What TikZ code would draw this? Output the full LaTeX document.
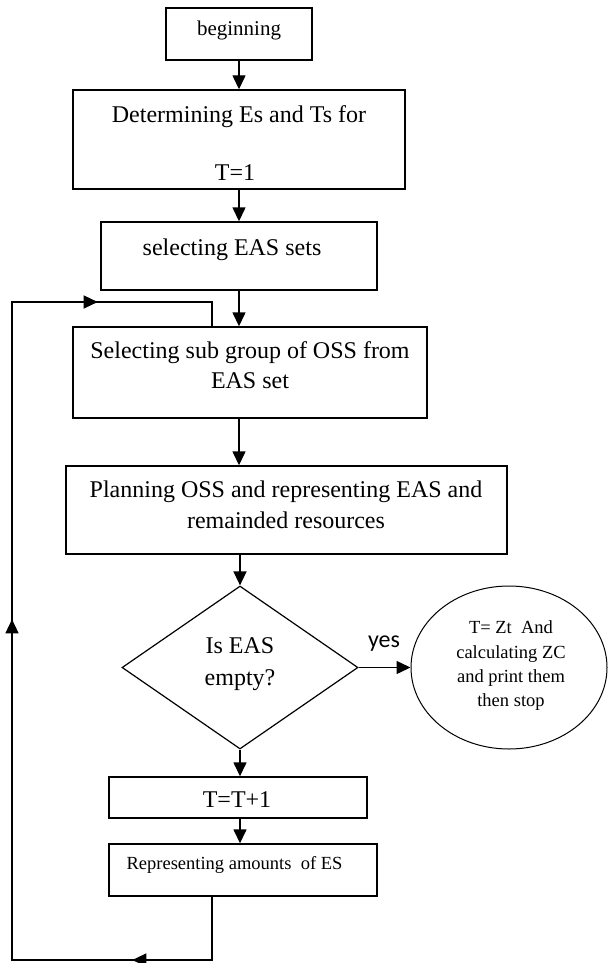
\documentclass[tikz,border=0pt]{standalone}
\usepackage{fontspec}
\setmainfont{Liberation Serif}
\newfontfamily\yesfont{Carlito}
\usetikzlibrary{shapes.geometric,arrows.meta,decorations.markings}
\begin{document}
\begin{tikzpicture}[x=1pt,y=-1pt,
  box/.style={draw,line width=1.4pt,rectangle,inner sep=0pt},
  arr/.style={line width=1.4pt,-{Triangle[length=14pt,width=13pt]}},
  txt/.style={inner sep=0pt,anchor=base,font=\fontsize{24}{28}\selectfont},
  small/.style={inner sep=0pt,anchor=base,font=\fontsize{18.5}{22}\selectfont},
  loopline/.style={line width=1.4pt,postaction={decorate},
    decoration={markings,
      mark=at position 143pt with {\arrow{Triangle[length=14pt,width=13pt]}},
      mark=at position 604pt with {\arrow{Triangle[length=14pt,width=13pt]}},
      mark=at position 1007pt with {\arrow{Triangle[length=14pt,width=13pt]}}}}
]
\useasboundingbox (0,0) rectangle (608,963);

% boxes
\node[box,minimum width=146pt,minimum height=52pt] (begin) at (239,34) {};
\node[box,minimum width=332pt,minimum height=99pt] (det) at (239,139.5) {};
\node[box,minimum width=276pt,minimum height=68pt] (sel) at (239,256) {};
\node[box,minimum width=354pt,minimum height=91pt] (sub) at (250,372.5) {};
\node[box,minimum width=441pt,minimum height=88pt] (plan) at (286.5,510) {};
\node[draw,diamond,line width=1.2pt,minimum width=236pt,minimum height=163pt,inner sep=0pt] (dia) at (240,667.5) {};
\node[draw,ellipse,line width=1pt,minimum width=196pt,minimum height=163pt,inner sep=0pt] (ell) at (509,667.5) {};
\node[box,minimum width=258pt,minimum height=41pt] (tbox) at (238,797.5) {};
\node[box,minimum width=268pt,minimum height=52pt] (rep) at (243,870) {};

% texts
\node[inner sep=0pt,anchor=base,font=\fontsize{21}{24}\selectfont] (tbegin) at (239,36) {beginning};
\node[txt] (tdet1) at (239,122) {Determining Es and Ts for};
\node[txt] (tdet2) at (235,180) {T=1};
\node[txt] (tsel) at (232,255) {selecting EAS sets};
\node[txt] (tsub1) at (250,358) {Selecting sub group of OSS from};
\node[txt] (tsub2) at (250,388) {EAS set};
\node[txt] (tplan1) at (286,497) {Planning OSS and representing EAS and};
\node[txt] (tplan2) at (286,528) {remainded resources};
\node[txt] (tdia1) at (240,653) {Is EAS};
\node[txt] (tdia2) at (240,685) {empty?};
\node[inner sep=0pt,anchor=base,font=\yesfont\fontsize{24}{28}\selectfont] (tyes) at (384,647) {yes};
\node[small] (tell1) at (511,633) {T= Zt\ \ And};
\node[small] (tell2) at (511,658) {calculating ZC};
\node[small] (tell3) at (511,682) {and print them};
\node[small] (tell4) at (511,706) {then stop};
\node[txt] (tt) at (237,807) {T=T+1};
\node[small] (trep) at (234.5,869) {Representing amounts\ \ of ES};

% connectors
\draw[arr] (begin.south) -- (det.north);
\draw[arr] (det.south) -- (sel.north);
\draw[arr] (sel.south) -- (sel.south |- sub.north);
\draw[arr] (sel.south |- sub.south) -- (sel.south |- plan.north);
\draw[arr] (dia.north |- plan.south) -- (dia.north);
\draw[arr] (dia.east) -- (ell.west);
\draw[arr] (dia.south) -- (dia.south |- tbox.north);
\draw[arr] (dia.south |- tbox.south) -- (dia.south |- rep.north);

% loop back
\coordinate (lb) at (212,960);
\coordinate (ll) at (12,960);
\coordinate (lt) at (12,302);
\coordinate (lr) at (212,302);
\draw[loopline] (rep.south -| lb) -- (lb) -- (ll) -- (lt) -- (lr) -- (lr |- sub.north);
\end{tikzpicture}
\end{document}
